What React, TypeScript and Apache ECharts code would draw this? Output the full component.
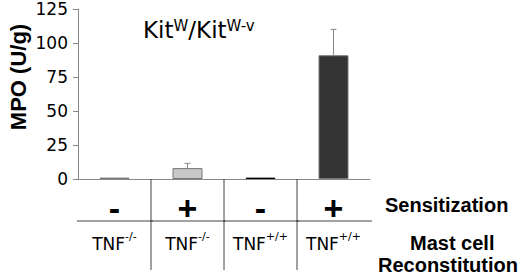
import React, { useEffect, useRef } from "react";
import * as echarts from "echarts";

const signs = ["-", "+", "-", "+"];
const tnfBase = ["TNF", "TNF", "TNF", "TNF"];
const tnfSup = ["-/-", "-/-", "+/+", "+/+"];
const mpoValues = [1, 8, 1, 91];
const errorTops = [1, 11.5, 1, 110];
const barColors = ["#bdbdbd", "#c8c8c8", "#111111", "#333333"];
const yTicks = { min: 0, max: 125, interval: 25 };
const rowLabels = ["Sensitization", "Mast cell", "Reconstitution"];

export default function App() {
  const ref = useRef<HTMLDivElement>(null);
  useEffect(() => {
    if (!ref.current) return;
    const chart = echarts.init(ref.current, null, { renderer: "svg" });
    const bold = "Liberation Sans, Arial, sans-serif";
    const reg = "DejaVu Sans, sans-serif";
    const catIdx = signs.map((_, i) => i);
    chart.setOption({
      animation: false,
      textStyle: { fontFamily: reg },
      title: {
        left: 143,
        top: 18,
        padding: 0,
        text: "{a|Kit}{s|W}{a|/Kit}{s|W-v}",
        textStyle: {
          fontWeight: "normal",
          rich: {
            a: { fontSize: 23, fontFamily: reg, fontWeight: "normal", color: "#000", lineHeight: 24 },
            s: { fontSize: 15, fontFamily: reg, fontWeight: "normal", color: "#000", lineHeight: 13, verticalAlign: "top" },
          },
        },
      },
      grid: { left: 78, right: 150, top: 9, bottom: 96, containLabel: false },
      xAxis: [
        {
          type: "category",
          data: signs,
          position: "bottom",
          offset: 0,
          axisLine: { show: true, lineStyle: { color: "#888", width: 1 } },
          axisTick: { show: false },
          axisLabel: {
            margin: 29,
            fontSize: 34,
            fontWeight: "bold",
            color: "#000",
            fontFamily: bold,
            verticalAlign: "middle",
          },
        },
        {
          type: "category",
          data: tnfBase.map((b, i) => `{t|${b}}{s|${tnfSup[i]}}`),
          position: "bottom",
          offset: 0,
          axisLine: { show: false },
          axisTick: { show: false },
          axisLabel: {
            margin: 65,
            interval: 0,
            verticalAlign: "middle",
            rich: {
              t: { fontSize: 17, fontFamily: reg, color: "#000", lineHeight: 26 },
              s: { fontSize: 11, fontFamily: reg, color: "#000", lineHeight: 13, verticalAlign: "top" },
            },
          },
        },
      ],
      yAxis: {
        type: "value",
        min: yTicks.min,
        max: yTicks.max,
        interval: yTicks.interval,
        axisLine: { show: true, lineStyle: { color: "#888", width: 1 } },
        axisTick: { show: true, length: 5, lineStyle: { color: "#888" } },
        splitLine: { show: false },
        axisLabel: { fontSize: 17, color: "#000", margin: 10, fontFamily: reg },
      },
      series: [
        {
          type: "bar",
          xAxisIndex: 0,
          barWidth: 30,
          data: mpoValues.map((v, i) => ({
            value: v,
            itemStyle: {
              color: barColors[i],
              borderColor: i === 2 ? "#000" : "#777",
              borderWidth: 1,
            },
          })),
        },
        {
          type: "custom",
          xAxisIndex: 0,
          data: catIdx.map((i) => [i, mpoValues[i], errorTops[i]]),
          z: 5,
          renderItem: (params: any, api: any) => {
            const i = api.value(0);
            const v = api.value(1);
            const t = api.value(2);
            if (t <= v) return null;
            const p0 = api.coord([i, v]);
            const p1 = api.coord([i, t]);
            const st = { stroke: "#888", lineWidth: 1 };
            return {
              type: "group",
              children: [
                { type: "line", shape: { x1: p0[0], y1: p0[1], x2: p1[0], y2: p1[1] }, style: st },
                { type: "line", shape: { x1: p1[0] - 3, y1: p1[1], x2: p1[0] + 3, y2: p1[1] }, style: st },
              ],
            };
          },
        },
        {
          type: "custom",
          xAxisIndex: 0,
          clip: false,
          silent: true,
          data: catIdx.map((i) => [i, 0]),
          renderItem: (params: any, api: any) => {
            const i = api.value(0);
            const size = api.size([1, 0]);
            const p = api.coord([i, 0]);
            const left = p[0] - size[0] / 2;
            const right = p[0] + size[0] / 2;
            const st = { stroke: "#444", lineWidth: 1 };
            const children: any[] = [
              { type: "line", shape: { x1: left - 1, y1: p[1] + 42, x2: right + 2, y2: p[1] + 42 }, style: st },
            ];
            if (i > 0) {
              children.push({ type: "line", shape: { x1: left, y1: p[1], x2: left, y2: p[1] + 91 }, style: st });
            }
            return { type: "group", children };
          },
        },
      ],
      graphic: [
        {
          type: "text",
          x: 18,
          y: 77,
          rotation: Math.PI / 2,
          style: {
            text: "MPO (U/g)",
            fontSize: 22,
            fontWeight: "bold",
            fill: "#000",
            fontFamily: bold,
            align: "center",
            verticalAlign: "middle",
          },
        },
        {
          type: "text",
          x: 385,
          y: 205,
          style: { text: rowLabels[0], fontSize: 20, fontWeight: "bold", fill: "#000", fontFamily: bold, verticalAlign: "middle" },
        },
        {
          type: "text",
          x: 410,
          y: 243,
          style: { text: rowLabels[1], fontSize: 20, fontWeight: "bold", fill: "#000", fontFamily: bold, verticalAlign: "middle", lineHeight: 20 },
        },
        {
          type: "text",
          x: 378,
          y: 265,
          style: { text: rowLabels[2], fontSize: 20, fontWeight: "bold", fill: "#000", fontFamily: bold, verticalAlign: "middle", lineHeight: 20 },
        },
      ],
    });
    return () => chart.dispose();
  }, []);
  return <div ref={ref} style={{ width: 520, height: 275, position: "absolute", left: 0, top: 0 }} />;
}
